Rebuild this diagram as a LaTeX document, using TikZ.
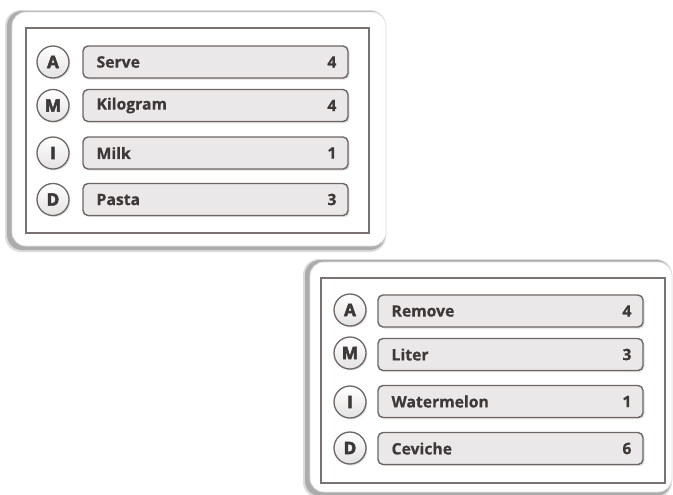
\documentclass[tikz,border=0pt]{standalone}
\usepackage{fontspec}
\setmainfont{Open Sans}
\newfontfamily\heavyfont{Open Sans}[FakeBold=3]
\newfontfamily\lblfont{Open Sans}[FakeBold=0.6]
\usetikzlibrary{shadows,calc}
\definecolor{edgec}{HTML}{6E6565}
\definecolor{barfill}{HTML}{EAE8E8}
\definecolor{txtc}{HTML}{3E3939}
\definecolor{framec}{HTML}{7A7272}
\tikzset{
  px/.style={x=0.75pt,y=-0.75pt},
  card/.style={draw=gray!25, fill=white, rounded corners=14*0.75pt, line width=0.6pt},
  cardshadow/.style={fill=gray!65, rounded corners=15*0.75pt},
  cardshadowsoft/.style={fill=gray!28, rounded corners=16*0.75pt},
  frame/.style={draw=framec, line width=1.3*0.75pt},
  bar/.style={draw=edgec, fill=barfill, rounded corners=5*0.75pt, line width=1.4*0.75pt,
    minimum width=265*0.75pt, minimum height=32*0.75pt, inner sep=0pt,
    drop shadow={shadow xshift=1.2pt, shadow yshift=-1.2pt, opacity=0.25}},
  badge/.style={circle, draw=edgec, line width=1.3*0.75pt, inner sep=0pt,
    minimum size=32*0.75pt, top color=white, bottom color=gray!22,
    font=\heavyfont\fontsize{12.8}{14}\selectfont\bfseries, text=txtc,
    drop shadow={shadow xshift=1pt, shadow yshift=-1pt, opacity=0.25}},
  lbl/.style={anchor=west, font=\lblfont\fontsize{11.8}{14}\selectfont\bfseries, text=txtc, inner sep=0pt},
  num/.style={anchor=east, font=\lblfont\fontsize{11.8}{14}\selectfont\bfseries, text=txtc, inner sep=0pt}
}
\begin{document}
\begin{tikzpicture}[px]
\useasboundingbox (0,0) rectangle (673,494);
% ---- top card ----
\fill[cardshadowsoft] (5,10) rectangle (386,252);
\fill[cardshadow] (7,11) rectangle (385,250);
\draw[card] (12,12) rectangle (386,246);
\draw[frame] (26,28) rectangle (369,233);
\node[bar] (b1) at (215.5,62) {};
\node[bar] (b2) at (215.5,105.5) {};
\node[bar] (b3) at (215.5,153) {};
\node[bar] (b4) at (215.5,199.5) {};
\node[badge] (c1) at (53,62) {A};
\node[badge] (c2) at (53,105.5) {M};
\node[badge] (c3) at (53,153) {I};
\node[badge] (c4) at (53,199.5) {D};
\node[lbl] (l1) at ($(b1.west)+(14,0)$) {Serve};
\node[lbl] (l2) at ($(b2.west)+(14,0)$) {Kilogram};
\node[lbl] (l3) at ($(b3.west)+(14,0)$) {Milk};
\node[lbl] (l4) at ($(b4.west)+(14,0)$) {Pasta};
\node[num] (n1) at ($(b1.east)+(-12,0)$) {4};
\node[num] (n2) at ($(b2.east)+(-12,0)$) {4};
\node[num] (n3) at ($(b3.east)+(-12,0)$) {1};
\node[num] (n4) at ($(b4.east)+(-12,0)$) {3};
% ---- bottom card ----
\fill[cardshadowsoft] (303,259) rectangle (672,498);
\fill[cardshadow] (305,260) rectangle (671,496);
\draw[card] (310,262) rectangle (672,492);
\draw[frame] (321,278) rectangle (665,483);
\node[bar] (d1) at (510.5,311) {};
\node[bar] (d2) at (510.5,354.5) {};
\node[bar] (d3) at (510.5,401.5) {};
\node[bar] (d4) at (510.5,448.5) {};
\node[badge] (e1) at (350,310) {A};
\node[badge] (e2) at (350,353) {M};
\node[badge] (e3) at (350,402) {I};
\node[badge] (e4) at (350,448) {D};
\node[lbl] (m1) at ($(d1.west)+(14,0)$) {Remove};
\node[lbl] (m2) at ($(d2.west)+(14,0)$) {Liter};
\node[lbl] (m3) at ($(d3.west)+(14,0)$) {Watermelon};
\node[lbl] (m4) at ($(d4.west)+(14,0)$) {Ceviche};
\node[num] (p1) at ($(d1.east)+(-12,0)$) {4};
\node[num] (p2) at ($(d2.east)+(-12,0)$) {3};
\node[num] (p3) at ($(d3.east)+(-12,0)$) {1};
\node[num] (p4) at ($(d4.east)+(-12,0)$) {6};
\end{tikzpicture}
\end{document}
